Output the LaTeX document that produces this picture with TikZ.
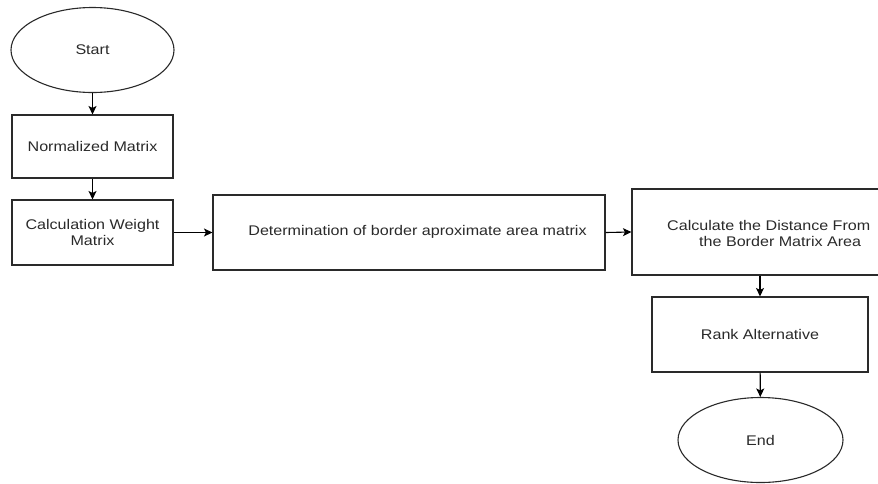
\documentclass[tikz,border=0pt]{standalone}
\usepackage{fontspec}
\setmainfont{Liberation Sans}[FakeStretch=1.15]
\usetikzlibrary{shapes.geometric,arrows.meta}
\definecolor{ink}{HTML}{2A2A2A}
\begin{document}
\begin{tikzpicture}[x=1pt,y=-1pt,
  every node/.style={font=\fontsize{14}{16.5}\selectfont, text=ink, inner sep=0pt},
  term/.style={draw=ink, line width=1.1pt, ellipse, minimum width=163pt, minimum height=85pt},
  box/.style={draw=ink, line width=1.1pt, rectangle},
  conn/.style={draw=black, line width=1.1pt, -{Stealth[length=8.5pt,width=8pt,inset=2pt]}}]
\useasboundingbox[fill=white] (0,0) rectangle (878,483);
\node[term] (start) at (92.5,50) {Start};
\node[box, minimum width=161pt, minimum height=63pt] (norm) at (92.5,146.5) {Normalized Matrix};
\node[box, minimum width=161pt, minimum height=65pt, align=center] (calcw) at (92.5,232.5) {Calculation Weight\\Matrix};
\node[box, minimum width=392pt, minimum height=75pt] (det) at (409,232.5) {};
\node (dettxt) at (417.5,232) {Determination of border aproximate area matrix};
\node[box, minimum width=250pt, minimum height=86pt] (dist) at (757,232) {};
\node[anchor=west, align=left] (disttxt) at (667,233.5) {Calculate the Distance From\\\hspace*{32pt}the Border Matrix Area};
\node[box, minimum width=216pt, minimum height=75pt] (rank) at (760,334.5) {Rank Alternative};
\node[term, minimum width=165pt] (end) at (760.5,440) {End};
\draw[conn] (start) -- (norm);
\draw[conn] (norm) -- (calcw);
\draw[conn] (calcw.east) -- (det.west);
\draw[conn] (det.east) -- (dist.west);
\draw[conn] (dist.south -| rank.north) -- (rank.north);
\draw[conn] (rank) -- (end);
\end{tikzpicture}
\end{document}
